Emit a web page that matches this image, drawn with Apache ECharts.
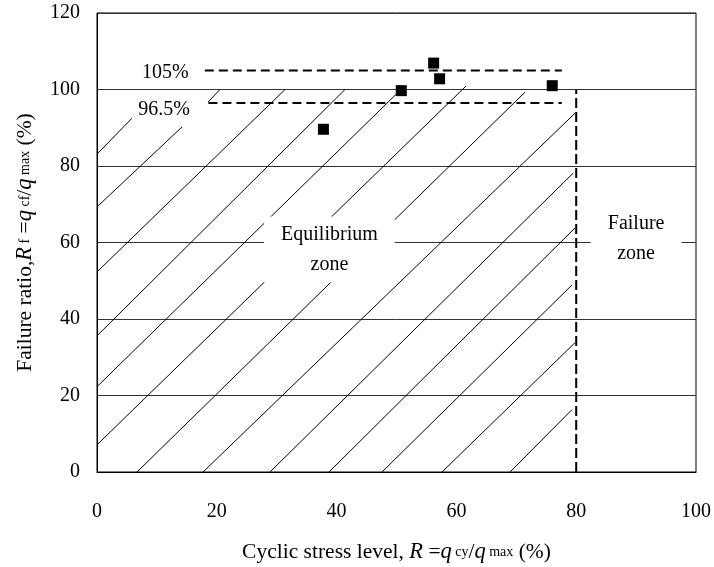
<!DOCTYPE html>
<html>
<head>
<meta charset="utf-8">
<script src="https://cdn.jsdelivr.net/npm/echarts@6/dist/echarts.min.js"></script>
<style>
html,body{margin:0;padding:0;background:#fff;}
#chart{width:714px;height:567px;}
</style>
</head>
<body>
<div id="chart"></div>
<script>
// Test results: cyclic stress level R (%) against failure ratio Rf (%)
const stressLevel = [37.8, 50.8, 56.2, 57.2, 76.0];
const failureRatio = [89.6, 99.7, 106.9, 102.8, 101.0];

// Band of measured failure ratios
const upperBound = 105;
const lowerBound = 96.5;
const upperBoundSpan = [18.0, 77.6];
const lowerBoundSpan = [18.6, 77.6];

// Critical cyclic stress level separating the two zones
const criticalStress = 80;
const criticalTop = 100;

// Hatching of the equilibrium zone, each entry [x1, y1, x2, y2] in axis units
const hatch = [
  [0, 83.1, 5.84, 92.5],
  [0, 69.3, 14.19, 90.2],
  [18.53, 96.7, 20.53, 100],
  [0, 52.3, 31.39, 100],
  [0, 35.6, 41.40, 100],
  [0, 22.3, 50.75, 100],
  [0, 7.1, 61.6, 100.9],
  [6.68, 0, 71.45, 99.3],
  [17.70, 0, 79.8, 93.8],
  [28.88, 0, 79.47, 78.1],
  [38.73, 0, 79.8, 63.8],
  [47.58, 0, 79.3, 48.9],
  [57.6, 0, 79.8, 33.8],
  [68.95, 0, 79.3, 16.3]
];

// Axis ranges
const xRange = [0, 100];
const yRange = [0, 120];
const tickStep = 20;

// Text annotations, anchored in axis units
const bandLabels = [
  { text: '105%', x: 11.4, y: 104.4 },
  { text: '96.5%', x: 11.2, y: 94.6 }
];
const zoneLabels = [
  { text: 'Equilibrium\nzone', x: 38.8, y: 58.2 },
  { text: 'Failure\nzone', x: 90.0, y: 60.9 }
];

const SERIF = '"Liberation Serif", "Times New Roman", serif';

const nameRich = {
  it: { fontFamily: SERIF, fontStyle: 'italic', fontSize: 22.5, color: '#000' },
  sm: { fontFamily: SERIF, fontSize: 14, color: '#000' }
};

const chart = echarts.init(document.getElementById('chart'), null, { renderer: 'canvas' });

chart.setOption({
  animation: false,
  backgroundColor: '#fff',
  grid: {
    left: 97, right: 18, top: 13, bottom: 95,
    outerBoundsMode: 'none', containLabel: false,
    show: true, borderColor: '#000', borderWidth: 1, backgroundColor: 'transparent'
  },
  xAxis: {
    type: 'value', min: xRange[0], max: xRange[1], interval: tickStep,
    axisLine: { show: true, lineStyle: { color: '#000', width: 1 } },
    axisTick: { show: false },
    splitLine: { show: false },
    axisLabel: { fontFamily: SERIF, fontSize: 20, color: '#000', margin: 30 },
    name: 'Cyclic stress level, {it|R} ={it|q}{sm| cy}/{it|q}{sm| max} (%)',
    nameLocation: 'middle', nameGap: 69,
    nameTextStyle: { fontFamily: SERIF, fontSize: 21.5, color: '#000', rich: nameRich }
  },
  yAxis: {
    type: 'value', min: yRange[0], max: yRange[1], interval: tickStep,
    axisLine: { show: true, lineStyle: { color: '#000', width: 1 } },
    axisTick: { show: false },
    splitLine: { show: true, lineStyle: { color: '#333', width: 1 } },
    axisLabel: { fontFamily: SERIF, fontSize: 20, color: '#000', margin: 17 },
    name: 'Failure ratio,{it|R}{sm| f} ={it|q}{sm| cf}/{it|q}{sm| max} (%)',
    nameLocation: 'middle', nameGap: 60, nameRotate: 90,
    nameTextStyle: { fontFamily: SERIF, fontSize: 21.5, color: '#000', rich: nameRich }
  },
  series: [
    {
      type: 'custom',
      silent: true,
      z: 2,
      data: hatch,
      encode: { x: [0, 2], y: [1, 3] },
      renderItem: function (params, api) {
        const a = api.coord([api.value(0), api.value(1)]);
        const b = api.coord([api.value(2), api.value(3)]);
        return {
          type: 'line',
          shape: { x1: a[0], y1: a[1], x2: b[0], y2: b[1] },
          style: { stroke: '#000', lineWidth: 1 }
        };
      }
    },
    {
      type: 'line', silent: true, z: 3, symbol: 'none',
      data: [[upperBoundSpan[0], upperBound], [upperBoundSpan[1], upperBound]],
      lineStyle: { color: '#000', width: 2, type: [9, 5] }
    },
    {
      type: 'line', silent: true, z: 3, symbol: 'none',
      data: [[lowerBoundSpan[0], lowerBound], [lowerBoundSpan[1], lowerBound]],
      lineStyle: { color: '#000', width: 2, type: [9, 5] }
    },
    {
      type: 'line', silent: true, z: 3, symbol: 'none',
      data: [[criticalStress, 0], [criticalStress, criticalTop]],
      lineStyle: { color: '#000', width: 2, type: [10, 4] }
    },
    {
      type: 'custom',
      silent: true,
      z: 5,
      data: zoneLabels.map(d => [d.x, d.y]),
      renderItem: function (params, api) {
        const p = api.coord([api.value(0), api.value(1)]);
        return {
          type: 'text', x: p[0], y: p[1],
          style: {
            text: zoneLabels[params.dataIndex].text,
            align: 'center', verticalAlign: 'middle',
            fontFamily: SERIF, fontSize: 20, lineHeight: 30, fill: '#000',
            backgroundColor: '#fff', padding: [3, 17]
          }
        };
      }
    },
    {
      type: 'custom',
      silent: true,
      z: 5,
      data: bandLabels.map(d => [d.x, d.y]),
      renderItem: function (params, api) {
        const p = api.coord([api.value(0), api.value(1)]);
        return {
          type: 'text', x: p[0], y: p[1],
          style: {
            text: bandLabels[params.dataIndex].text,
            align: 'center', verticalAlign: 'middle',
            fontFamily: SERIF, fontSize: 20, fill: '#000'
          }
        };
      }
    },
    {
      type: 'scatter', z: 6,
      symbol: 'rect', symbolSize: 11,
      itemStyle: { color: '#000', opacity: 1 },
      data: stressLevel.map((x, i) => [x, failureRatio[i]])
    }
  ]
});
</script>
</body>
</html>
